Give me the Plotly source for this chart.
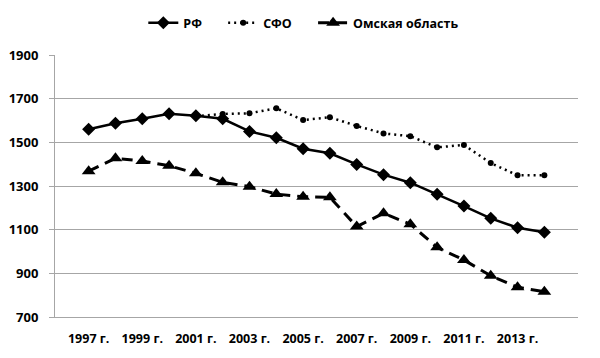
import plotly.graph_objects as go

years = [f"{y} г." for y in range(1997, 2015)]
rf = [1560, 1587, 1608, 1631, 1622, 1608, 1550, 1521, 1471, 1450, 1399, 1352, 1315, 1262, 1208, 1152, 1109, 1088]
sfo = [None, None, None, None, 1620, 1630, 1633, 1656, 1602, 1615, 1575, 1541, 1528, 1477, 1488, 1405, 1349, 1349]
omsk = [1368, 1427, 1414, 1393, 1358, 1317, 1297, 1263, 1251, 1248, 1114, 1175, 1125, 1019, 961, 889, 836, 816]

FONT = "Open Sans"
SP = "&nbsp;" * 5
fig = go.Figure()
fig.add_trace(go.Scatter(x=years, y=rf, name="<b>РФ</b>" + SP, mode="lines+markers",
                         line=dict(color="black", width=2.5),
                         marker=dict(symbol="diamond", size=10, color="black")))
fig.add_trace(go.Scatter(x=years, y=sfo, name="<b>СФО</b>" + SP, mode="lines+markers",
                         line=dict(color="black", width=2.5, dash="2px,4px"),
                         marker=dict(symbol="circle", size=6, color="black")))
fig.add_trace(go.Scatter(x=years, y=omsk, name="<b>Омская область</b>", mode="lines+markers",
                         line=dict(color="black", width=3, dash="11px,7px"),
                         marker=dict(symbol="triangle-up", size=12, color="black")))

fig.update_layout(
    width=600, height=358,
    margin=dict(l=47, r=30, t=47, b=49),
    paper_bgcolor="white", plot_bgcolor="white",
    font=dict(family=FONT, size=12.5, color="black"),
    showlegend=True,
    legend=dict(orientation="h", xref="container", yref="container",
                x=0.493, y=0.958, xanchor="center", yanchor="middle",
                font=dict(family=FONT, size=12.5, color="black"),
                itemwidth=30, tracegroupgap=0),
    xaxis=dict(type="category", dtick=2, showline=True, linecolor="#a6a6a6", linewidth=1,
               ticks="", showgrid=False, ticklabelstandoff=10, automargin=False,
               tickfont=dict(family=FONT, size=12.5, color="black", weight="bold")),
    yaxis=dict(range=[700, 1900], tick0=700, dtick=200, showline=True, linecolor="#a6a6a6", linewidth=1,
               ticks="outside", ticklen=5, tickcolor="#a6a6a6", showgrid=True,
               gridcolor="#a6a6a6", gridwidth=1, zeroline=False, ticklabelstandoff=8,
               automargin=False,
               tickfont=dict(family=FONT, size=13, color="black", weight="bold")),
)

fig.write_html("out.html")
